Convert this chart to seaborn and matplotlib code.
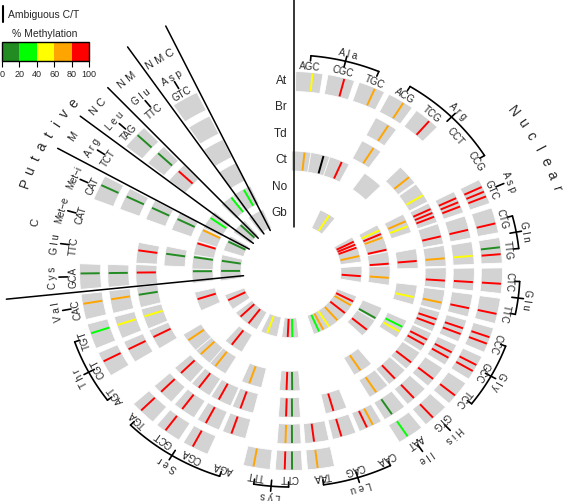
import numpy as np
import matplotlib
matplotlib.use('Agg')
import matplotlib.pyplot as plt
import seaborn as sns
from matplotlib.colors import ListedColormap, BoundaryNorm
from matplotlib.transforms import offset_copy
from matplotlib.lines import Line2D
import matplotlib.colorbar as mcolorbar

sns.set_theme(style='white')
plt.rcParams['font.family'] = ['Liberation Sans', 'DejaVu Sans']

# one slot per tRNA gene, clockwise from the top
amino = ['Ala', 'Ala', 'Ala', 'Arg', 'Arg', 'Arg', 'Arg', 'Asp', 'Gln', 'Gln',
         'Glu', 'Glu', 'Gly', 'Gly', 'Gly', 'His', 'Ile', 'Leu', 'Leu', 'Leu',
         'Lys', 'Lys', 'Ser', 'Ser', 'Ser', 'Ser', 'Thr', 'Thr', 'Thr', 'Val',
         'Cys', 'Glu', 'Met-e', 'Met-i', 'Arg', 'Leu', 'Glu', 'Asp']
anticodon = ['AGC', 'CGC', 'TGC', 'ACG', 'TCG', 'CCT', 'CCG', 'GTC', 'CTG', 'TTG',
             'CTC', 'TTC', 'CCC', 'GCC', 'TCC', 'GTG', 'AAT', 'CAA', 'CAG', 'TAA',
             'CTT', 'TTT', 'AGA', 'CGA', 'GCT', 'TGA', 'AGT', 'CGT', 'TGT', 'CAC',
             'GCA', 'TTC', 'CAT', 'CAT', 'TCT', 'TAG', 'TTC', 'GTC']
n_nuclear = 30
groups = ['C', 'M', 'NC', 'NM', 'NMC']
group_size = [4, 1, 1, 1, 1]

species = ['At', 'Br', 'Td', 'Ct', 'No', 'Gb']
# % methylation of each line in a cell; [] = gray cell without line, None = no cell
# -1 = ambiguous C/T
N = None
At = [[50], [90], [70], [70], [90], N, N, [90, 90, 90], [90], [10, 90],
      [90], [90], [90, 90], [90, 90], [90], [90], [30], N, N, [70],
      [10, 90], [70], N, [90], [90], [90], N, [90], [30], [70],
      [10], N, N, [10], N, [10], N, []]
Br = [N, N, N, [70], N, N, N, [90, 90, 90], [90], [50],
      [90], [90], [90, 90], [90, 90], [90], [90], [10], [70, 90], [90], [90],
      [10, 70], N, [90], [90], [90], [90], N, [90], [50], [70],
      [10], N, N, [10], N, [10], N, []]
Td = [N, N, N, [70], N, [70], [50], [90, 90, 90], [90], [70],
      [90], [70], [90, 90], [90, 90], [90], [90], [70], N, [90], N,
      [10, 90], N, [90], [90], [90], [90], N, [90], [50], [10],
      [90], [90], N, [10], N, [90], N, []]
Ct = [[70], [-1], [90], N, [], N, N, [70, 50], N, [90],
      N, [50], N, [30, 50], N, N, [70], N, N, N,
      [10, 90], N, [70], N, [70], [70], [70], N, N, N,
      N, [10], N, [10], N, N, N, []]
No = [N, N, N, N, N, N, N, [50, 90, 70], [90], [90],
      [70], N, N, [10], [90], N, N, N, N, N,
      N, N, N, N, [90], N, N, N, [90], N,
      [10], [10], [90], [70], [30], N, [30], [30]]
Gb = [N, N, N, [50], N, N, N, [90, 90, 90], [70], N,
      [90], N, N, [90, 70], [90], [70], [50], [70, 30], N, N,
      [30, 90], N, [50], N, [90], [90], N, [90], N, N,
      [10], [10], N, [10], N, [10], N, []]

level_colors = ['#228B22', '#00FF00', '#FFFF00', '#FFA500', '#FF0000']
cmap = ListedColormap(level_colors)
norm = BoundaryNorm([0, 20, 40, 60, 80, 100], cmap.N)

fig = plt.figure(figsize=(5.64, 5.02), dpi=100)
# polar axes centred at pixel (291, 272), slightly wider than tall
rmax = 300
sx = 1.06
ax = fig.add_axes([(291 - rmax * sx) / 564, (502 - 272 - rmax) / 502,
                   2 * rmax * sx / 564, 2 * rmax / 502], projection='polar')
ax.set_theta_zero_location('N')
ax.set_theta_direction(-1)
ax.set_ylim(0, rmax)
ax.set_aspect('auto')
ax.axis('off')

step = 8.78
slot_deg = 5 + step * np.arange(len(anticodon))
slot_theta = np.deg2rad(slot_deg)
rings = [At, Br, Td, Ct, No, Gb]
ring_mid = [189.5, 163, 136.5, 110, 83.5, 57]
cell_w = [7.4, 7.6, 8.2, 9.5, 12, 14]
cell_h = 20


def line_offsets(n):
    if n == 1:
        return [0.12]
    if n == 2:
        return [-0.12, 0.15]
    return list(np.linspace(-0.2, 0.2, n))


for k, ring in enumerate(rings):
    idx = [i for i, v in enumerate(ring) if v is not None]
    ax.bar(slot_theta[idx], cell_h, width=np.deg2rad(cell_w[k]),
           bottom=ring_mid[k] - cell_h / 2, color='#d3d3d3',
           edgecolor='white', linewidth=0.6, align='center')

for k, ring in enumerate(rings):
    for i, vals in enumerate(ring):
        if not vals:
            continue
        th = [slot_theta[i] + o * np.deg2rad(cell_w[k]) for o in line_offsets(len(vals))]
        cols = ['black' if v < 0 else cmap(norm(v)) for v in vals]
        ax.vlines(th, ring_mid[k] - 9, ring_mid[k] + 9, colors=cols, lw=1.4)

# divider lines
div_deg = [5 + step * 29.5, 5 + step * 33.5, 5 + step * 34.5, 5 + step * 35.5,
           5 + step * 36.5, 5 + step * 37.5]
div_out = [270, 252, 252, 252, 272, 272]
for d, ro in zip(div_deg, div_out):
    ax.plot([np.deg2rad(d)] * 2, [45, ro], color='black', lw=1.1, clip_on=False)
vtr = offset_copy(ax.transData, fig=fig, x=3, y=0, units='dots')
ax.plot([0, 0], [44, 300], color='black', lw=1.1, transform=vtr, clip_on=False)

# ring labels
ltr = offset_copy(ax.transData, fig=fig, x=-4, y=0, units='dots')
for k, sp in enumerate(species):
    ax.text(0, ring_mid[k] + 2, sp, transform=ltr, ha='right', va='center',
            fontsize=8.5)


def tang_text(deg, r, s, size):
    ax.text(np.deg2rad(deg), r, s, rotation=-deg, rotation_mode='anchor',
            ha='center', va='center', fontsize=size)


def radial(deg, r0, r1):
    ax.plot([np.deg2rad(deg)] * 2, [r0, r1], color='black', lw=1.2)


r_codon, r_arc, r_amino = 206, 216, 224.5
for i in range(len(anticodon)):
    tang_text(slot_deg[i], r_codon, anticodon[i], 7)

# amino acid brackets
i = 0
while i < len(amino):
    j = i
    while j + 1 < n_nuclear and i < n_nuclear and amino[j + 1] == amino[i]:
        j += 1
    mid = (slot_deg[i] + slot_deg[j]) / 2
    if j > i:
        arc = np.deg2rad(np.linspace(slot_deg[i], slot_deg[j], 40))
        ax.plot(arc, [r_arc] * len(arc), color='black', lw=1.2)
        radial(slot_deg[i], r_arc - 5, r_arc)
        radial(slot_deg[j], r_arc - 5, r_arc)
        radial(mid, r_arc - 6, r_arc + 5)
    else:
        radial(mid, r_codon + 5, r_codon + 13)
    name = amino[i]
    if '-' in name:
        label = name.replace('-', '\u2212')
    else:
        label = ' '.join(name)
    tang_text(mid, r_amino, label, 7)
    i = j + 1

# putative compartment labels
start = n_nuclear
for g, n in zip(groups, group_size):
    mid = slot_deg[start:start + n].mean()
    tang_text(mid, 246, ' '.join(g), 8)
    start += n

for k, ch in enumerate('Putative'):
    tang_text(289.5 + 2.85 * k, 266, ch, 10)
for k, ch in enumerate('Nuclear'):
    tang_text(52.5 + 3.2 * k, 264, ch, 10)

# legend
fig.add_artist(Line2D([3 / 564, 3 / 564], [1 - 7 / 502, 1 - 23 / 502],
                      transform=fig.transFigure, color='black', lw=1.5))
fig.text(8 / 564, 1 - 14.5 / 502, 'Ambiguous C/T', ha='left', va='center', fontsize=7.5)
fig.text(45 / 564, 1 - 34 / 502, '% Methylation', ha='center', va='center', fontsize=7.5)
cax = fig.add_axes([2 / 564, 1 - 62 / 502, 87 / 564, 19 / 502])
cb = mcolorbar.ColorbarBase(cax, cmap=cmap, norm=norm, orientation='horizontal',
                            ticks=[0, 20, 40, 60, 80, 100])
cb.outline.set_edgecolor('black')
cb.outline.set_linewidth(1.0)
cax.tick_params(axis='x', length=4, width=0.8, color='black', labelsize=6.5, pad=2,
                bottom=True, direction='out')

fig.savefig('out.png', dpi=100)
